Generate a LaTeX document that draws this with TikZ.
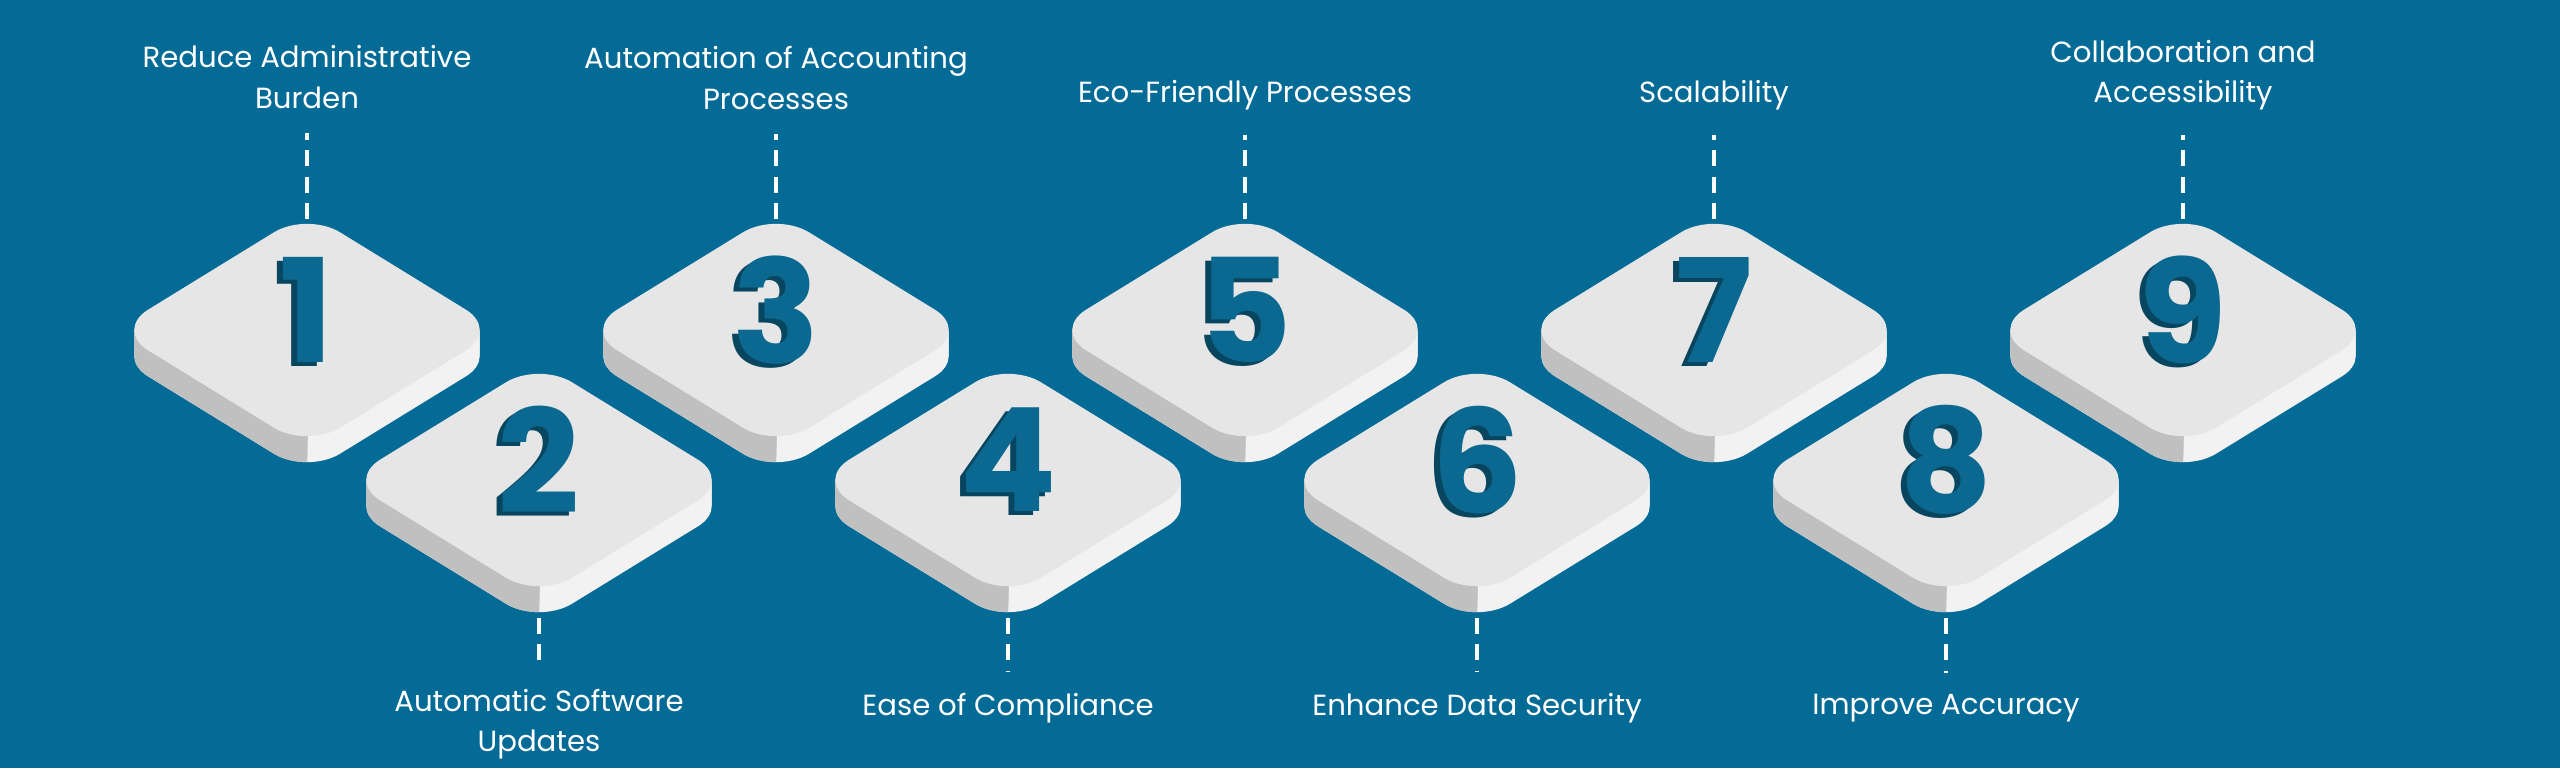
\documentclass[tikz,border=0pt]{standalone}
\usepackage{fontspec}
\setmainfont{Poppins}
\definecolor{bg}{RGB}{4,106,150}
\definecolor{digfront}{RGB}{10,104,145}
\definecolor{digside}{RGB}{8,70,96}
\definecolor{tiletop}{RGB}{230,230,230}
\definecolor{tileleft}{RGB}{192,192,192}
\definecolor{tileright}{RGB}{242,242,242}
\tikzset{
 lbl/.style={text=white,align=center,font=\fontsize{16.6}{23}\selectfont,inner sep=2pt},
 dashline/.style={white,line width=2.6pt,dash pattern=on 9pt off 6pt},
 diam/.pic={\path[pic actions,rounded corners=22] (0,-118) -- (192,0) -- (0,118) -- (-192,0) -- cycle;},
}
\newcommand{\tile}[4]{% name, x, y, digit
 \begin{scope}[shift={(#2,#3)}]
  \foreach \o in {2,4,...,26}{\pic[fill=tileright] at (0,\o) {diam};}
  \begin{scope}
   \clip (-200,-10) rectangle (0,160);
   \foreach \o in {2,4,...,26}{\pic[fill=tileleft] at (0,\o) {diam};}
  \end{scope}
  \pic[fill=tiletop] at (0,0) {diam};
  \coordinate (#1t) at (0,-111);
  \coordinate (#1b) at (0,138);
  \node[text=digside,font=\fontsize{82}{82}\bfseries\selectfont] at (-6,-16) {#4};
  \node[text=digfront,font=\fontsize{82}{82}\bfseries\selectfont] (#1d) at (0,-20) {#4};
 \end{scope}}
\begin{document}
\begin{tikzpicture}[x=0.02cm,y=-0.02cm]
\fill[bg] (0,0) rectangle (2560,768);
\useasboundingbox (0,0) rectangle (2560,768);
\tile{a}{307}{330}{1}
\tile{c}{776}{330}{3}
\tile{e}{1245}{330}{5}
\tile{g}{1714}{330}{7}
\tile{i}{2183}{330}{9}
\tile{b}{539}{480}{2}
\tile{d}{1008}{480}{4}
\tile{f}{1477}{480}{6}
\tile{h}{1946}{480}{8}
\node[lbl] (la) at (307,77) {Reduce Administrative\\Burden};
\node[lbl] (lc) at (776,78) {Automation of Accounting\\Processes};
\node[lbl] (le) at (1245,95) {Eco-Friendly Processes};
\node[lbl] (lg) at (1714,95) {Scalability};
\node[lbl] (li) at (2183,75) {Collaboration and\\Accessibility};
\node[lbl] (lb) at (539,724) {Automatic Software\\Updates};
\node[lbl] (ld) at (1008,708) {Ease of Compliance};
\node[lbl] (lf) at (1477,708) {Enhance Data Security};
\node[lbl] (lh) at (1946,708) {Improve Accuracy};
\foreach \t in {a,c,e,g,i}{\draw[dashline] (\t t) -- ([yshift=-12pt]l\t.south);}
\foreach \t in {b,d,f,h}{\draw[dashline] (\t b) -- ([yshift=10pt]l\t.north);}
\end{tikzpicture}
\end{document}
